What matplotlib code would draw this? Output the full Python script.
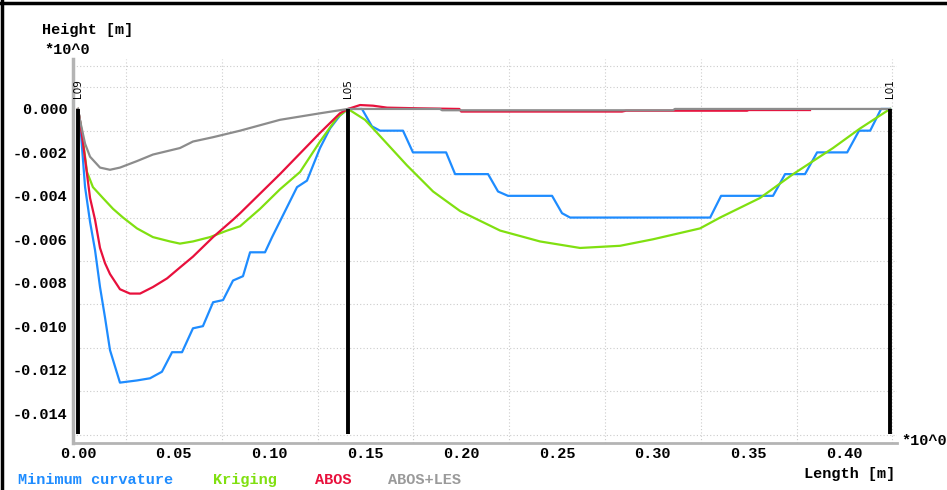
import numpy as np
import matplotlib.pyplot as plt
from matplotlib.lines import Line2D

# profile data, x in m, height in m
mc_x = [0.0, 0.0010, 0.0037, 0.0063, 0.0089, 0.0115, 0.0141, 0.0167, 0.0219, 0.0308, 0.0376,
        0.0438, 0.0491, 0.0543, 0.0600, 0.0652, 0.0705, 0.0757, 0.0809, 0.0861, 0.0898, 0.0976,
        0.1013, 0.1143, 0.1195, 0.1263, 0.1315, 0.1367, 0.1409,
        0.1482, 0.1534, 0.1576, 0.1696, 0.1748, 0.1921, 0.1968, 0.2140, 0.2192, 0.2244, 0.2474,
        0.2526, 0.2568, 0.3299, 0.3356, 0.3627, 0.3690, 0.3794, 0.3857, 0.4014, 0.4076, 0.4134,
        0.4191, 0.4238]
mc_y = [0.0, -0.0005, -0.0036, -0.0052, -0.0065, -0.0082, -0.0096, -0.0111, -0.0126, -0.0125, -0.0124,
        -0.0121, -0.0112, -0.0112, -0.0101, -0.0100, -0.0089, -0.0088, -0.0079, -0.0077, -0.0066, -0.0066,
        -0.0059, -0.0036, -0.0033, -0.0018, -0.0009, -0.0003, 0.0,
        0.0, -0.0008, -0.001, -0.001, -0.002, -0.002, -0.003, -0.003, -0.0038, -0.004, -0.004,
        -0.0048, -0.005, -0.005, -0.004, -0.004, -0.003, -0.003, -0.002, -0.002, -0.001, -0.001,
        0.0, 0.0]

kr_x = [0.0, 0.0021, 0.0047, 0.0078, 0.0130, 0.0183, 0.0235, 0.0308, 0.0391, 0.0480, 0.0532,
        0.0600, 0.0689, 0.0778, 0.0846, 0.0950, 0.1054, 0.1159, 0.1263, 0.1352, 0.1409,
        0.1498, 0.1592, 0.1717, 0.1853, 0.1994, 0.2203, 0.2411, 0.2620, 0.2829, 0.3001, 0.3246,
        0.3351, 0.3559, 0.3732, 0.3940, 0.4081, 0.4238]
kr_y = [0.0, -0.0011, -0.0029, -0.0036, -0.0041, -0.0046, -0.0050, -0.0055, -0.0059, -0.0061, -0.0062,
        -0.0061, -0.0059, -0.0056, -0.0054, -0.0046, -0.0037, -0.0029, -0.0015, -0.0004, 0.0,
        -0.0005, -0.0014, -0.0026, -0.0038, -0.0047, -0.0056, -0.0061, -0.0064, -0.0063, -0.0060, -0.0055,
        -0.0050, -0.0041, -0.0030, -0.0018, -0.0009, 0.0]

abos_x = [0.0, 0.0010, 0.0037, 0.0063, 0.0089, 0.0115, 0.0141, 0.0167, 0.0219, 0.0271, 0.0324,
          0.0391, 0.0465, 0.0532, 0.0600, 0.0705, 0.0809, 0.0846, 0.1054, 0.1263, 0.1367, 0.1409,
          0.1472, 0.1540, 0.1613, 0.1775, 0.1990, 0.2000, 0.2839, 0.2860, 0.3492, 0.3500, 0.3820]
abos_y = [0.0, -0.0005, -0.0023, -0.0041, -0.0051, -0.0064, -0.0071, -0.0076, -0.0083, -0.0085, -0.0085,
          -0.0082, -0.0078, -0.0073, -0.0068, -0.0059, -0.0051, -0.0048, -0.0030, -0.0011, -0.0002, 0.0,
          0.00018, 0.00015, 0.00006, 0.00003, 0.0, -0.00012, -0.00012, -0.00008, -0.00008, -0.00005, -0.00005]

les_x = [0.0, 0.0010, 0.0037, 0.0063, 0.0115, 0.0167, 0.0219, 0.0308, 0.0391, 0.0532, 0.0600,
         0.0705, 0.0846, 0.1054, 0.1263, 0.1409, 0.1889, 0.1900, 0.3105, 0.3115, 0.4238]
les_y = [0.0, -0.0005, -0.0016, -0.0022, -0.0027, -0.0028, -0.0027, -0.0024, -0.0021, -0.0018, -0.0015,
         -0.0013, -0.0010, -0.0005, -0.0002, 0.0, 0.0, -0.00006, -0.00006, 0.0, 0.0]

marker_x = [0.0, 0.1409, 0.4238]
marker_names = ['L09', 'L05', 'L01']

x_ticks = [0.00, 0.05, 0.10, 0.15, 0.20, 0.25, 0.30, 0.35, 0.40]
y_ticks = [0.000, -0.002, -0.004, -0.006, -0.008, -0.010, -0.012, -0.014]

series = [
    ('Minimum curvature', mc_x, mc_y, '#1e8cff'),
    ('Kriging', kr_x, kr_y, '#80e010'),
    ('ABOS', abos_x, abos_y, '#e8103c'),
    ('ABOS+LES', les_x, les_y, '#8c8c8c'),
]

W, H = 947, 490
mono = {'family': 'Liberation Mono', 'weight': 'bold', 'size': 11}


def fpos(px, py):
    return px / W, 1 - py / H


fig = plt.figure(figsize=(W / 100, H / 100), dpi=100)
ax = fig.add_axes([73 / W, 47 / H, 824 / W, 384 / H])

ax.set_xlim(-0.0026, 0.4274)
ax.set_ylim(-0.01538, 0.0023)

ax.set_xticks(np.arange(-0.0, 0.43, 0.025), minor=True)
ax.set_yticks(np.arange(-0.015, 0.0021, 0.001), minor=True)
ax.grid(which='minor', color='#cccccc', linestyle=(0, (1, 2)), linewidth=0.8)
ax.set_axisbelow(True)

ax.set_xticks(x_ticks)
ax.set_xticklabels([f'{v:.2f}' for v in x_ticks], fontdict=mono)
ax.set_yticks(y_ticks)
ax.set_yticklabels(['0.000'] + [f'{v:.3f}' for v in y_ticks[1:]], fontdict=mono)
ax.tick_params(which='both', length=0)
ax.tick_params(axis='x', pad=3)
ax.tick_params(axis='y', pad=4)

for s in ['top', 'right']:
    ax.spines[s].set_visible(False)
ax.spines['left'].set_color('#b4b4b4')
ax.spines['left'].set_linewidth(2.5)
ax.spines['bottom'].set_color('#b4b4b4')
ax.spines['bottom'].set_linewidth(2)

for name, xs, ys, col in series:
    ax.plot(xs, ys, color=col, linewidth=1.6, solid_joinstyle='round')

for mx, nm in zip(marker_x, marker_names):
    ax.plot([mx, mx], [0.0, -0.01497], color='black', linewidth=2.8, solid_capstyle='butt')
    ax.text(mx, 0.0005, nm, rotation=90, ha='center', va='bottom',
            fontsize=7.5, family='DejaVu Sans', color='black')

# labels around the plot
fig.text(*fpos(42, 30), 'Height [m]', fontdict=mono, va='center', ha='left')
fig.text(*fpos(44, 50), '*10^0', fontdict=mono, va='center', ha='left')
fig.text(*fpos(901, 441), '*10^0', fontdict=mono, va='center', ha='left')
fig.text(*fpos(895, 474), 'Length [m]', fontdict=mono, va='center', ha='right')

leg_x = [18, 213, 315, 388]
for (name, xs, ys, col), lx in zip(series, leg_x):
    tcol = '#9a9a9a' if name == 'ABOS+LES' else col
    fig.text(*fpos(lx, 480), name, fontdict=mono, color=tcol, va='center', ha='left')

# frame lines at top and left
fig.add_artist(Line2D([0, 1], [1 - 3 / H, 1 - 3 / H], color='black', linewidth=2.5))
fig.add_artist(Line2D([2 / W, 2 / W], [0, 1], color='black', linewidth=2.5))

fig.savefig('out.png', dpi=100)
